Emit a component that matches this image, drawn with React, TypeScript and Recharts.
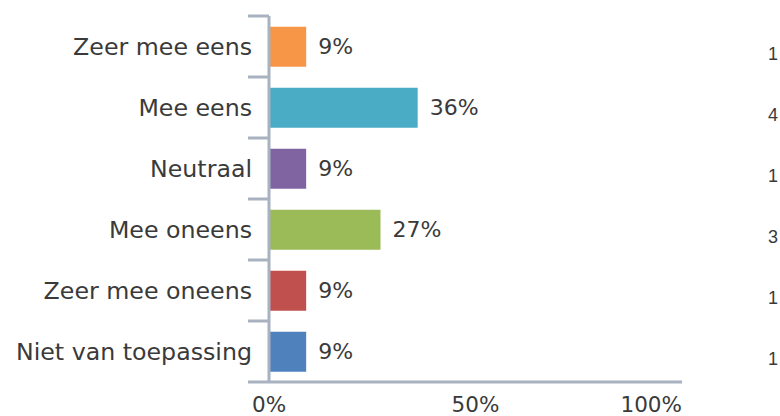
import { Bar, BarChart, Cell, LabelList, XAxis, YAxis } from "recharts";

// answer options, share of respondents (%) and raw counts
const categories = [
  "Zeer mee eens",
  "Mee eens",
  "Neutraal",
  "Mee oneens",
  "Zeer mee oneens",
  "Niet van toepassing",
];
const percentages = [9, 36, 9, 27, 9, 9];
const counts = [1, 4, 1, 3, 1, 1];
const barColors = ["#F79646", "#4BACC6", "#8064A2", "#9BBB59", "#C0504D", "#4F81BD"];
const xTicks = [0, 50, 100];

const data = categories.map((name, i) => ({ name, pct: percentages[i], count: counts[i] }));

const AXIS = "#A8B2C0";
const TEXT = "#3a3a3a";
const FONT = "'DejaVu Sans', Verdana, sans-serif";

// Excel-style category axis: ticks sit on the band boundaries, not the centres.
function CategoryTick(props: any) {
  const { x, y, payload, index } = props;
  const half = payload.offset ?? 0;
  const last = index === categories.length - 1;
  return (
    <g>
      <line x1={x - 21} x2={x} y1={y - half} y2={y - half} stroke={AXIS} strokeWidth={3} />
      {last && <line x1={x - 21} x2={x} y1={y + half} y2={y + half} stroke={AXIS} strokeWidth={3} />}
      <text x={x - 17} y={y} dy="0.35em" textAnchor="end" fontSize={23.7} fill={TEXT} fontFamily={FONT}>
        {payload.value}
      </text>
    </g>
  );
}

function CountTick(props: any) {
  const { x, y, index } = props;
  return (
    <text x={x} y={y} dy="0.75em" textAnchor="start" fontSize={18} fill={TEXT} fontFamily="Arial, 'Liberation Sans', sans-serif">
      {counts[index]}
    </text>
  );
}

function PctTick(props: any) {
  const { x, y, payload, index } = props;
  const anchor = index === xTicks.length - 1 ? "end" : "middle";
  return (
    <text x={x} y={y} dy="0.71em" textAnchor={anchor} fontSize={21.5} fill={TEXT} fontFamily={FONT}>
      {payload.value}%
    </text>
  );
}

export default function App() {
  return (
    <div style={{ position: "absolute", left: 0, top: 0, background: "#fff" }}>
      <BarChart
        width={780}
        height={416}
        data={data}
        layout="vertical"
        margin={{ top: 16, right: 0, bottom: 0, left: 0 }}
        barCategoryGap="17.5%"
      >
        <XAxis
          type="number"
          domain={[0, 100]}
          ticks={xTicks}
          tick={<PctTick />}
          tickLine={false}
          tickSize={0}
          tickMargin={15}
          axisLine={{ stroke: AXIS, strokeWidth: 3 }}
          height={34}
          interval={0}
        />
        <YAxis
          type="category"
          dataKey="name"
          width={269}
          tick={<CategoryTick />}
          tickLine={false}
          tickSize={0}
          tickMargin={0}
          axisLine={{ stroke: AXIS, strokeWidth: 3 }}
          interval={0}
        />
        <YAxis
          yAxisId="counts"
          orientation="right"
          type="category"
          dataKey="name"
          width={98}
          tick={<CountTick />}
          tickLine={false}
          tickSize={0}
          tickMargin={86}
          axisLine={false}
          interval={0}
        />
        <Bar dataKey="pct" isAnimationActive={false}>
          {data.map((d, i) => (
            <Cell key={d.name} fill={barColors[i]} />
          ))}
          <LabelList
            dataKey="pct"
            position="right"
            offset={12}
            formatter={(v: any) => `${v}%`}
            style={{ fontSize: 22, fill: TEXT, fontFamily: FONT }}
          />
        </Bar>
      </BarChart>
    </div>
  );
}
